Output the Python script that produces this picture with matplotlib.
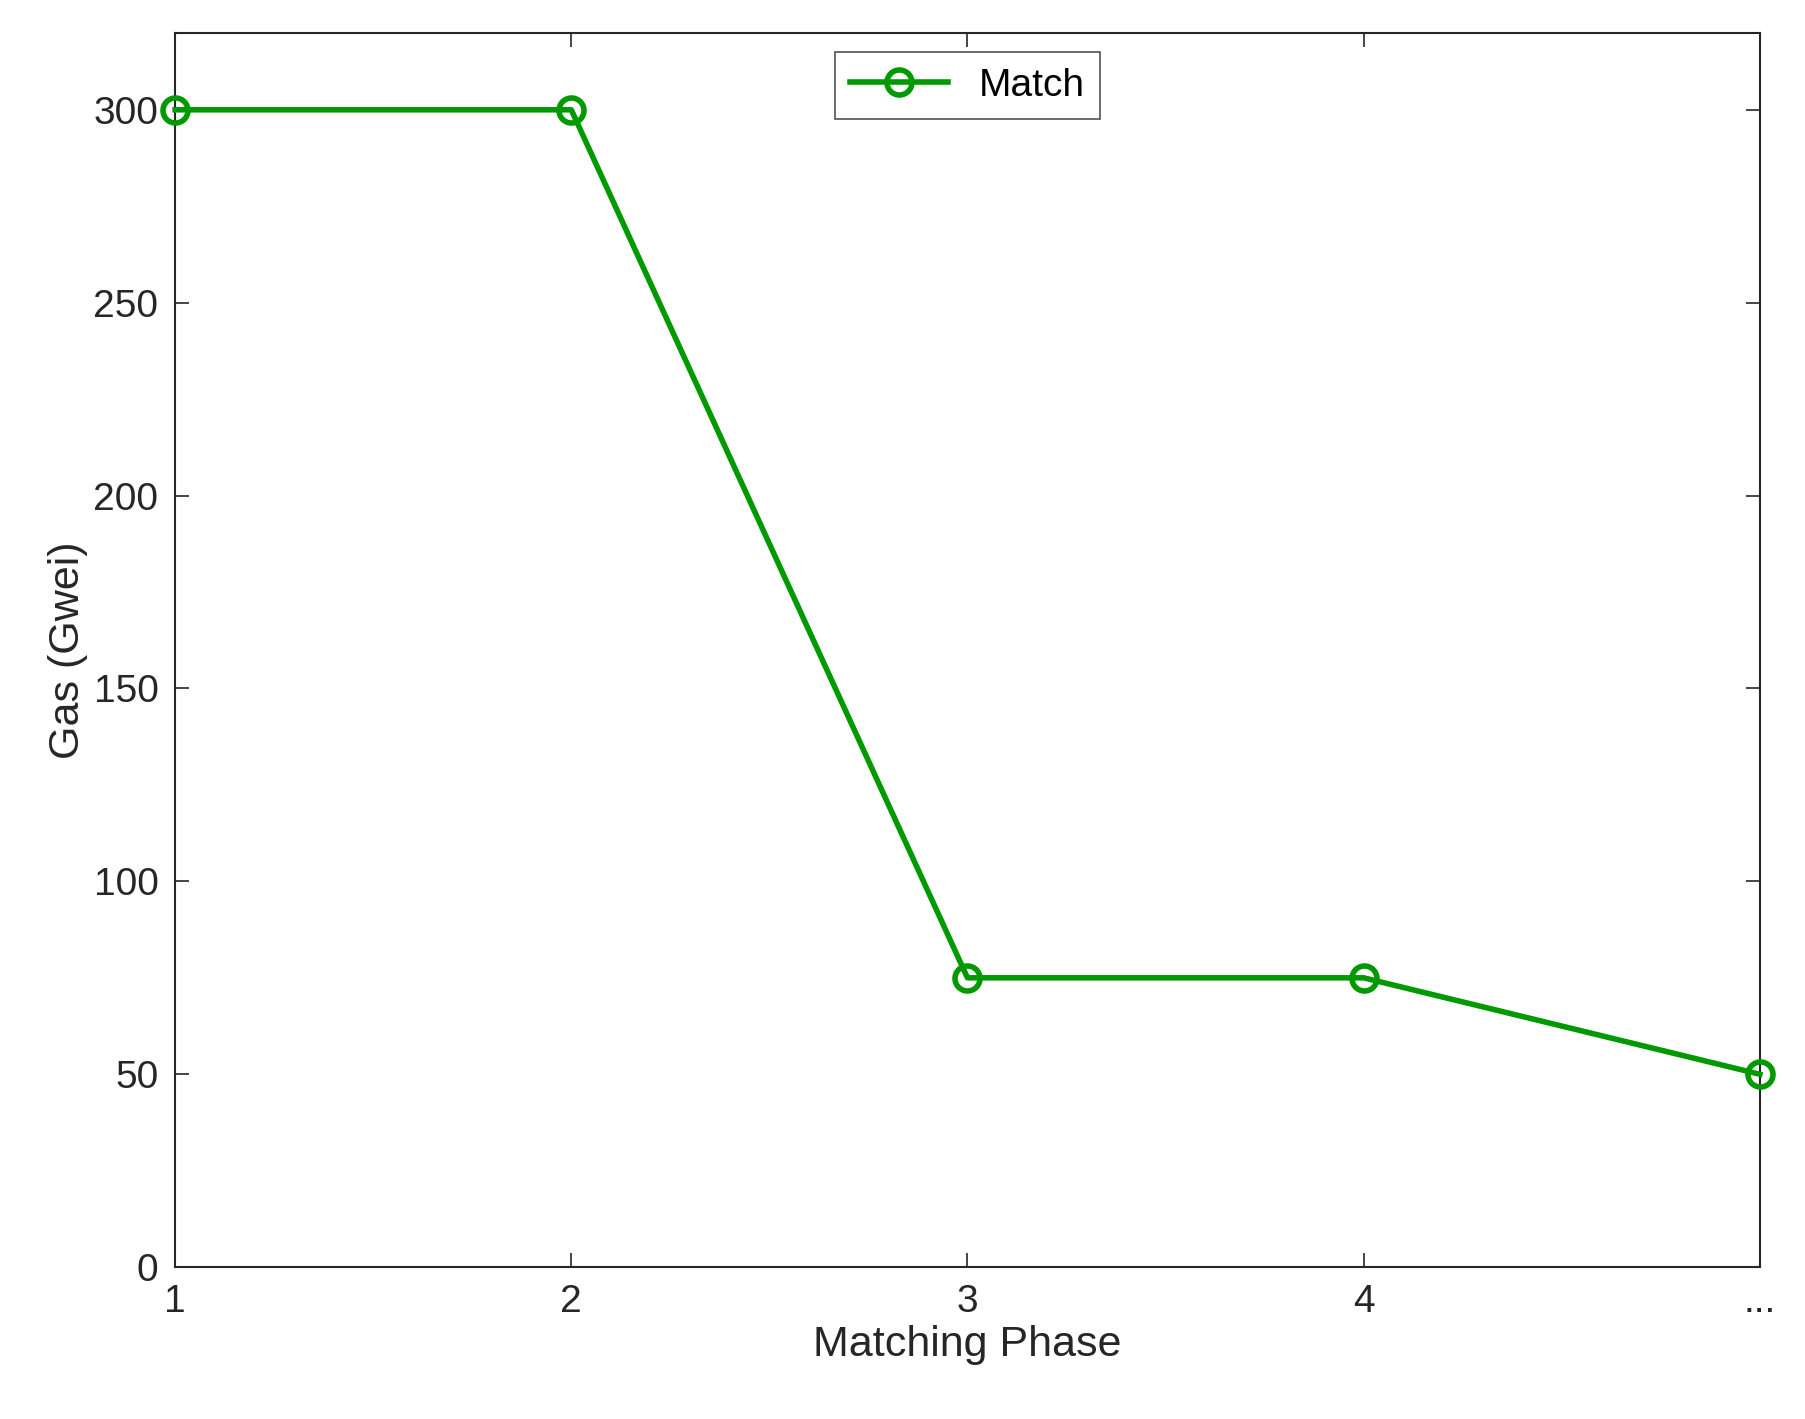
import matplotlib
matplotlib.use("Agg")
import matplotlib.pyplot as plt

phases = [1, 2, 3, 4, 5]
tick_labels = ["1", "2", "3", "4", "..."]
gas = [300, 300, 75, 75, 50]

plt.rcParams['font.family'] = ['Liberation Sans', 'DejaVu Sans']
fig = plt.figure(figsize=(18.05, 14.19), dpi=100)
ax = fig.add_axes([0.097, 0.107, 0.878, 0.87])
ax.plot(phases, gas, color='#009900', lw=4, marker='o', ms=18, mfc='none', mew=4, label='Match', clip_on=False, zorder=5)
ax.set_xlim(1, 5)
ax.set_ylim(0, 320)
ax.set_xticks(phases)
ax.set_xticklabels(tick_labels)
ax.set_yticks(range(0, 301, 50))
ax.tick_params(direction='in', length=10, width=1.2, labelsize=28, top=True, right=True, colors='#262626', pad=12)
for s in ax.spines.values():
    s.set_linewidth(1.5); s.set_color('#262626')
ax.set_xlabel('Matching Phase', fontsize=31, color='#262626')
ax.set_ylabel('Gas (Gwei)', fontsize=31, color='#262626')
leg = ax.legend(loc='upper center', fontsize=28, fancybox=False, edgecolor='#262626', handlelength=2.5, borderpad=0.4)
leg.get_frame().set_linewidth(1.2)
fig.savefig('out.png')
